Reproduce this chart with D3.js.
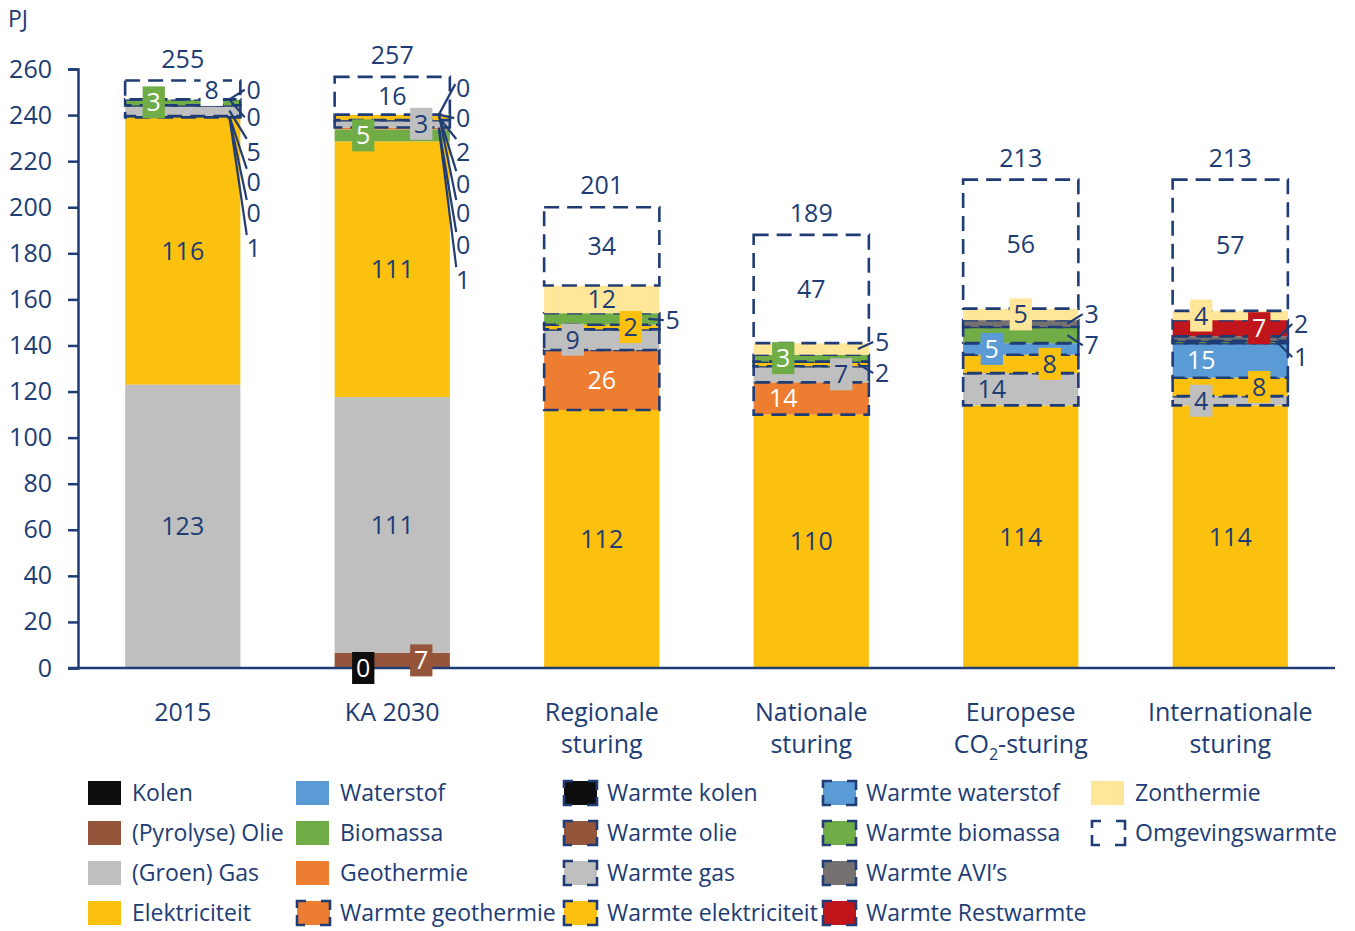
<!DOCTYPE html>
<html>
<head>
<meta charset="utf-8">
<script src="https://cdn.jsdelivr.net/npm/d3@7"></script>
<style>
  body { margin: 0; background: #fff; }
  text { font-family: "Open Sans", "Noto Sans", sans-serif; fill: #203c74; }
</style>
</head>
<body>
<svg id="chart" width="1355" height="931"></svg>
<script>
// categories and bar totals
var categories = ["2015", "KA 2030", "Regionale sturing", "Nationale sturing", "Europese CO2-sturing", "Internationale sturing"];
var categoryLines = [["2015"], ["KA 2030"], ["Regionale", "sturing"], ["Nationale", "sturing"], ["Europese", "CO_2-sturing"], ["Internationale", "sturing"]];
var totals = [255, 257, 201, 189, 213, 213];

// series values (PJ), one value per category
var kolen               = [0,   0,    0,   0,   0,   0];
var olie                = [0,   6.6,  0,   0,   0,   0];
var gas                 = [123, 111,  0,   0,   0,   0];
var elektriciteit       = [116, 111,  112, 110, 114, 114];
var waterstof           = [0,   0,    0,   0,   0,   0];
var biomassa            = [0,   5.2,  0,   0,   0,   0];
var geothermie          = [0,   0.8,  0,   0,   0,   0];
var warmteGeothermie    = [0,   0,    26,  14,  0,   0];
var warmteKolen         = [0.6, 0,    0,   0,   0,   0];
var warmteOlie          = [0,   0,    0,   0,   0,   0];
var warmteGas           = [4.6, 3.2,  9,   7,   14,  4];
var warmteElektriciteit = [0,   2.4,  2,   2,   8,   8];
var warmteWaterstof     = [0,   0,    0,   0,   5,   15];
var warmteBiomassa      = [2.6, 0,    5,   3,   7,   1];
var warmteAvi           = [0,   0,    0,   0,   3,   2];
var warmteRestwarmte    = [0,   0,    0,   0,   0,   7];
var zonthermie          = [0,   0,    12,  5,   5,   4];
var omgevingswarmte     = [8.2, 16.4, 34,  47,  56,  57];

var navy = "#203c74";

var series = [
  {name: "Kolen", values: kolen, color: "#0d0d0d", dashed: false, light: false},
  {name: "(Pyrolyse) Olie", values: olie, color: "#95553a", dashed: false, light: false},
  {name: "(Groen) Gas", values: gas, color: "#bfbfbf", dashed: false, light: true},
  {name: "Elektriciteit", values: elektriciteit, color: "#fcc10f", dashed: false, light: true},
  {name: "Waterstof", values: waterstof, color: "#5b9bd5", dashed: false, light: false},
  {name: "Biomassa", values: biomassa, color: "#70ad47", dashed: false, light: false},
  {name: "Geothermie", values: geothermie, color: "#ed7d31", dashed: false, light: false},
  {name: "Warmte geothermie", values: warmteGeothermie, color: "#ed7d31", dashed: true, light: false},
  {name: "Warmte kolen", values: warmteKolen, color: "#0d0d0d", dashed: true, light: false},
  {name: "Warmte olie", values: warmteOlie, color: "#95553a", dashed: true, light: false},
  {name: "Warmte gas", values: warmteGas, color: "#bfbfbf", dashed: true, light: true},
  {name: "Warmte elektriciteit", values: warmteElektriciteit, color: "#fcc10f", dashed: true, light: true},
  {name: "Warmte waterstof", values: warmteWaterstof, color: "#5b9bd5", dashed: true, light: false},
  {name: "Warmte biomassa", values: warmteBiomassa, color: "#70ad47", dashed: true, light: false},
  {name: "Warmte AVI\u2019s", values: warmteAvi, color: "#767171", dashed: true, light: false},
  {name: "Warmte Restwarmte", values: warmteRestwarmte, color: "#c0161b", dashed: true, light: false},
  {name: "Zonthermie", values: zonthermie, color: "#ffe699", dashed: false, light: true},
  {name: "Omgevingswarmte", values: omgevingswarmte, color: "#ffffff", dashed: true, light: true}
];

// label placement: [category, series, x offset, boxed]
var inlineLabels = [
  [0, "(Groen) Gas", 0, false], [0, "Elektriciteit", 0, false], [0, "Warmte biomassa", -29, true], [0, "Omgevingswarmte", 29, true],
  [1, "Kolen", -29, true], [1, "(Pyrolyse) Olie", 29, true], [1, "(Groen) Gas", 0, false], [1, "Elektriciteit", 0, false],
  [1, "Biomassa", -29, true], [1, "Warmte gas", 29, true], [1, "Omgevingswarmte", 0, false],
  [2, "Elektriciteit", 0, false], [2, "Warmte geothermie", 0, false], [2, "Warmte gas", -29, true],
  [2, "Warmte elektriciteit", 29, true], [2, "Zonthermie", 0, false], [2, "Omgevingswarmte", 0, false],
  [3, "Elektriciteit", 0, false], [3, "Warmte geothermie", -28, false], [3, "Warmte gas", 30, true],
  [3, "Warmte biomassa", -28, true], [3, "Omgevingswarmte", 0, false],
  [4, "Elektriciteit", 0, false], [4, "Warmte gas", -29, false], [4, "Warmte elektriciteit", 29, true],
  [4, "Warmte waterstof", -29, true], [4, "Zonthermie", 0, true], [4, "Omgevingswarmte", 0, false],
  [5, "Elektriciteit", 0, false], [5, "Warmte gas", -29, true], [5, "Warmte elektriciteit", 29, true],
  [5, "Warmte waterstof", -29, false], [5, "Warmte Restwarmte", 29, true], [5, "Zonthermie", -29, true],
  [5, "Omgevingswarmte", 0, false]
];

// labels pulled out with a leader line: [category, series, label height in PJ]
var leaderLabels = [
  [0, "Zonthermie", 251], [0, "Warmte Restwarmte", 239], [0, "Warmte gas", 224],
  [0, "Warmte olie", 211], [0, "Warmte geothermie", 197.5], [0, "Warmte kolen", 182.3],
  [1, "Zonthermie", 251.7], [1, "Warmte Restwarmte", 238.7], [1, "Warmte elektriciteit", 224],
  [1, "Warmte biomassa", 210], [1, "Warmte waterstof", 197.5], [1, "Warmte olie", 183.6], [1, "Geothermie", 168.4],
  [2, "Warmte biomassa", 151],
  [3, "Zonthermie", 141.5], [3, "Warmte elektriciteit", 128],
  [4, "Warmte AVI\u2019s", 153.6], [4, "Warmte biomassa", 140],
  [5, "Warmte AVI\u2019s", 149.3], [5, "Warmte biomassa", 135]
];

var rows = categories.map(function(c, i) {
  var r = {cat: i};
  series.forEach(function(s) { r[s.name] = s.values[i]; });
  return r;
});
var keys = series.map(function(s) { return s.name; });
var stacked = d3.stack().keys(keys)(rows);
var byName = {};
stacked.forEach(function(layer, i) { byName[keys[i]] = {layer: layer, s: series[i]}; });

var svg = d3.select("#chart");
var x = d3.scaleBand().domain(d3.range(categories.length)).range([78, 1335]).paddingInner(0.45).paddingOuter(0.225);
var y = d3.scaleLinear().domain([0, 260]).range([668, 69]);
var fmt = function(v) { return String(Math.round(v)); };

// bars
var layers = svg.append("g").selectAll("g").data(stacked).join("g");
layers.each(function(layer, li) {
  var s = series[li];
  d3.select(this).selectAll("rect")
    .data(layer.filter(function(d) { return d[1] - d[0] > 0; }))
    .join("rect")
    .attr("x", function(d) { return x(d.data.cat); })
    .attr("width", x.bandwidth())
    .attr("y", function(d) { return y(d[1]); })
    .attr("height", function(d) { return y(d[0]) - y(d[1]); })
    .attr("fill", s.color)
    .attr("stroke", s.dashed ? navy : "none")
    .attr("stroke-width", s.dashed ? 2.6 : 0)
    .attr("stroke-dasharray", s.dashed ? "15,8" : null);
});

// axes
var yAxis = svg.append("g").attr("transform", "translate(78,0)")
  .call(d3.axisLeft(y).tickValues(d3.range(0, 261, 20)).tickSize(10).tickPadding(16));
yAxis.selectAll("path, line").attr("stroke", navy).attr("stroke-width", 2.5);
yAxis.selectAll("text").style("font-size", "25px").attr("fill", navy);

svg.append("line").attr("x1", 68).attr("x2", 1335).attr("y1", y(0)).attr("y2", y(0))
  .attr("stroke", navy).attr("stroke-width", 2.5);

svg.append("text").attr("x", 8).attr("y", 27).style("font-size", "23px").text("PJ");

// category labels
categoryLines.forEach(function(lines, i) {
  lines.forEach(function(line, j) {
    var t = svg.append("text").attr("x", x(i) + x.bandwidth() / 2).attr("y", 721 + j * 32)
      .attr("text-anchor", "middle").style("font-size", "25px");
    var parts = line.split("_");
    if (parts.length === 1) { t.text(line); return; }
    t.append("tspan").text(parts[0]);
    t.append("tspan").attr("dy", 7).style("font-size", "16px").text(parts[1].charAt(0));
    t.append("tspan").attr("dy", -7).text(parts[1].slice(1));
  });
});

// leader lines and labels
var labelG = svg.append("g");
leaderLabels.forEach(function(l) {
  var d = byName[l[1]].layer[l[0]];
  var x0 = x(l[0]) + x.bandwidth() - 11;
  var y0 = y((d[0] + d[1]) / 2);
  var lx = x(l[0]) + x.bandwidth() / 2 + 71;
  var ly = y(l[2]);
  var ex = lx - 9, ey = ly;
  if (ly - y0 > 20) { ex = lx - 7; ey = ly - 13; }
  else if (y0 - ly > 20) { ex = lx - 8; ey = ly - 4; }
  labelG.append("line").attr("x1", x0).attr("y1", y0).attr("x2", ex).attr("y2", ey)
    .attr("stroke", navy).attr("stroke-width", 2.2);
  labelG.append("text").attr("x", lx).attr("y", ly + 9).attr("text-anchor", "middle")
    .style("font-size", "25px").text(fmt(d[1] - d[0]));
});

inlineLabels.forEach(function(l) {
  var info = byName[l[1]];
  var d = info.layer[l[0]];
  var cx = x(l[0]) + x.bandwidth() / 2 + l[2];
  var cy = y((d[0] + d[1]) / 2);
  var g = labelG.append("g");
  var t = g.append("text").attr("x", cx).attr("y", cy + 9).attr("text-anchor", "middle")
    .style("font-size", "25px").text(fmt(d[1] - d[0]));
  if (l[3]) {
    var w = t.node().getComputedTextLength() + 8;
    g.insert("rect", "text").attr("x", cx - w / 2).attr("y", cy - 16).attr("width", w).attr("height", 32)
      .attr("fill", info.s.color);
  }
  t.style("fill", info.s.light ? navy : "#ffffff");
});

// totals
totals.forEach(function(v, i) {
  var top = d3.sum(series, function(s) { return s.values[i]; });
  svg.append("text").attr("x", x(i) + x.bandwidth() / 2).attr("y", y(top) - 13)
    .attr("text-anchor", "middle").style("font-size", "25px").text(v);
});

// legend
var colX = [88, 296, 563, 822, 1091];
var rowY = [793, 833, 873, 913];
var legend = svg.append("g").selectAll("g").data(series).join("g")
  .attr("transform", function(s, i) { return "translate(" + colX[Math.floor(i / 4)] + "," + rowY[i % 4] + ")"; });
legend.append("rect")
  .attr("x", function(s) { return s.dashed ? 1 : 0; })
  .attr("y", -12)
  .attr("width", 33)
  .attr("height", 24)
  .attr("fill", function(s) { return s.color; })
  .attr("stroke", function(s) { return s.dashed ? navy : "none"; })
  .attr("stroke-width", 2.6)
  .attr("stroke-dasharray", function(s) { return s.dashed ? "9,15,18,7,18,15,18,7,9" : null; });
legend.append("text").attr("x", 44).attr("y", 8).style("font-size", "23px").text(function(s) { return s.name; });
</script>
</body>
</html>
